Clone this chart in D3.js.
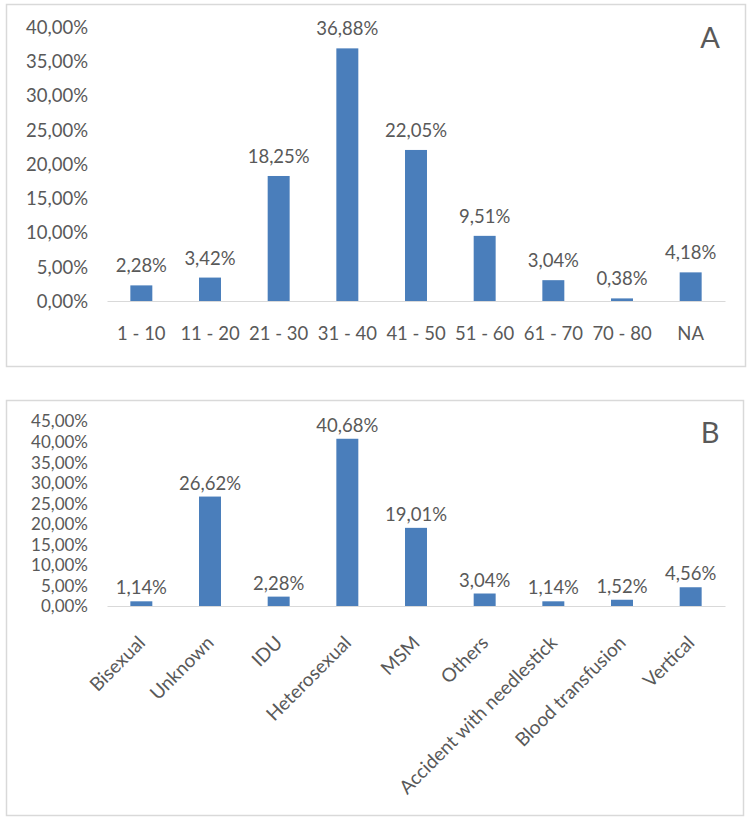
<!DOCTYPE html>
<html>
<head>
<meta charset="utf-8">
<script src="https://cdn.jsdelivr.net/npm/d3@7"></script>
<style>
body { margin: 0; background: #fff; }
text { font-family: Lato, "Open Sans", sans-serif; fill: #595959; }
</style>
</head>
<body>
<svg id="chart" width="750" height="820"></svg>
<script>
const ageCategories = ["1 - 10", "11 - 20", "21 - 30", "31 - 40", "41 - 50", "51 - 60", "61 - 70", "70 - 80", "NA"];
const ageValues = [2.28, 3.42, 18.25, 36.88, 22.05, 9.51, 3.04, 0.38, 4.18];
const ageTicks = [0, 5, 10, 15, 20, 25, 30, 35, 40];

const routeCategories = ["Bisexual", "Unknown", "IDU", "Heterosexual", "MSM", "Others", "Accident with needlestick", "Blood transfusion", "Vertical"];
const routeValues = [1.14, 26.62, 2.28, 40.68, 19.01, 3.04, 1.14, 1.52, 4.56];
const routeTicks = [0, 5, 10, 15, 20, 25, 30, 35, 40, 45];

const svg = d3.select("#chart");
const fmt = v => v.toFixed(2).replace(".", ",") + "%";
const barColor = "#4a7ebb";
const gridColor = "#d9d9d9";
const FONT = "Lato, 'Open Sans', sans-serif";

function panel(opts) {
  const g = svg.append("g");
  g.append("rect")
    .attr("x", opts.frame[0] + 0.5).attr("y", opts.frame[1] + 0.5)
    .attr("width", opts.frame[2] - opts.frame[0]).attr("height", opts.frame[3] - opts.frame[1])
    .attr("fill", "none").attr("stroke", gridColor).attr("stroke-width", 1.5);

  const x = d3.scaleBand().domain(opts.categories).range([107, 725])
    .paddingInner(0.68).paddingOuter(0.34);
  const y = d3.scaleLinear().domain(opts.domain).range(opts.yRange);

  const yAxis = d3.axisLeft(y).tickValues(opts.ticks).tickSize(0).tickPadding(0)
    .tickFormat(v => v.toFixed(2).replace(".", ",") + "%");
  const ya = g.append("g").attr("transform", "translate(88,0)").call(yAxis);
  ya.select(".domain").remove();
  ya.selectAll("text").style("font-size", opts.yFont + "px").attr("dy", "0.35em")
    .style("font-family", FONT).attr("fill", "#595959");

  g.selectAll("rect.bar").data(opts.values).join("rect").attr("class", "bar")
    .attr("x", (d, i) => x(opts.categories[i]))
    .attr("width", x.bandwidth())
    .attr("y", d => y(d))
    .attr("height", d => y(0) - y(d))
    .attr("fill", barColor);

  const xAxis = d3.axisBottom(x).tickSize(0).tickPadding(0);
  const xa = g.append("g").attr("transform", `translate(0,${y(0)})`).call(xAxis);
  xa.select(".domain").attr("stroke", gridColor).attr("stroke-width", 1.2);
  xa.selectAll("text").style("font-size", opts.xFont + "px")
    .style("font-family", FONT).attr("fill", "#595959");
  opts.styleLabels(xa.selectAll(".tick text"));

  g.selectAll("text.val").data(opts.values).join("text").attr("class", "val")
    .attr("x", (d, i) => x(opts.categories[i]) + x.bandwidth() / 2)
    .attr("y", d => y(d) - opts.labelGap)
    .attr("text-anchor", "middle")
    .style("font-size", "18.5px")
    .text(d => fmt(d));

  g.append("text").attr("x", 710).attr("y", opts.letterY)
    .attr("text-anchor", "middle").style("font-size", "29px").text(opts.letter);
}

panel({
  frame: [6, 4, 745, 366],
  categories: ageCategories, values: ageValues, ticks: ageTicks,
  domain: [0, 40], yRange: [301, 27], labelGap: 13, letter: "A", letterY: 48,
  yFont: 18.5, xFont: 18.5,
  styleLabels: sel => sel.attr("y", 0).attr("dy", "39px")
});

panel({
  frame: [6, 400, 743, 815],
  categories: routeCategories, values: routeValues, ticks: routeTicks,
  domain: [0, 45], yRange: [606, 421], labelGap: 7, letter: "B", letterY: 443,
  yFont: 17, xFont: 19,
  styleLabels: sel => sel.attr("text-anchor", "end").attr("y", 0).attr("dy", 0)
    .attr("transform", "translate(5,38) rotate(-45)")
});
</script>
</body>
</html>
